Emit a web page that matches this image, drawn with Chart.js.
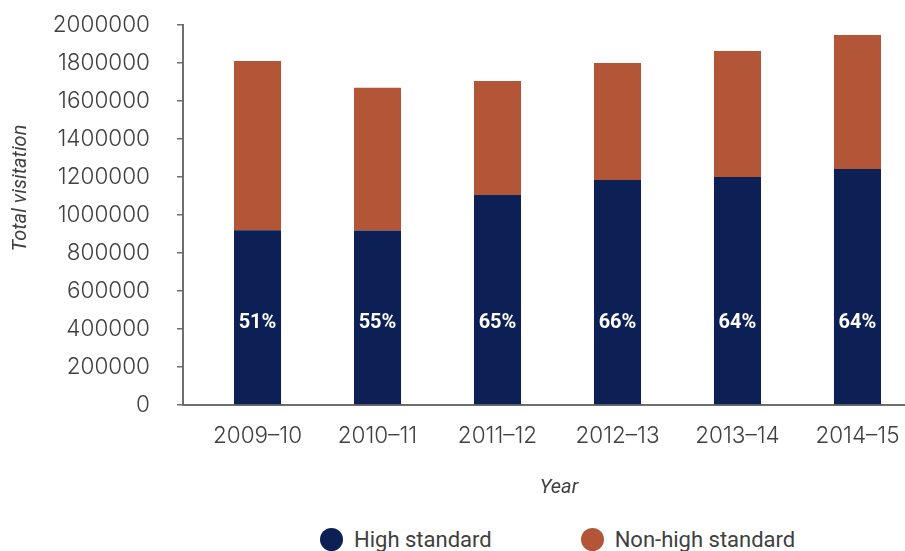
<!DOCTYPE html>
<html>
<head>
<meta charset="utf-8">
<title>Total visitation by year</title>
<script src="https://cdn.jsdelivr.net/npm/chart.js@4.4.1/dist/chart.umd.min.js"></script>
<style>
  html, body { margin: 0; padding: 0; background: #fff; overflow: hidden; }
  /* plot runs a little past the right edge of the window */
  #wrap { position: relative; width: 935px; height: 503px; }
  #legend {
    display: flex; align-items: center;
    margin-top: 21px; padding-left: 320px; height: 30px;
    font: 22px Roboto, sans-serif;
    color: #404040;
  }
  .item { display: flex; align-items: center; margin-right: 89px; white-space: nowrap; }
  .dot { width: 23px; height: 23px; border-radius: 50%; margin-right: 11px; }
</style>
</head>
<body>
<div id="wrap"><canvas id="visitChart"></canvas></div>
<div id="legend"></div>

<script>
const years = ['2009–10', '2010–11', '2011–12', '2012–13', '2013–14', '2014–15'];
const highStandard = [920000, 918000, 1105000, 1184000, 1200000, 1242000];
const nonHighStandard = [890000, 752000, 600000, 616000, 663000, 705000];
const yTicks = { min: 0, max: 2000000, step: 200000 };

const NAVY = 'rgb(12, 32, 85)';
const RUST = 'rgb(179, 86, 55)';
const TEXT = '#404040';
const AXIS = '#6e6e6e';
const TICK_FONT = 'Inter, "Open Sans", sans-serif';

// share of high standard visits, written inside the navy bars
const shareLabels = highStandard.map((h, i) =>
    Math.round(h / (h + nonHighStandard[i]) * 100) + '%');
const SHARE_LEVEL = 430000; // y value the share labels sit on

const shareLabelPlugin = {
    id: 'shareLabels',
    afterDatasetsDraw(chart) {
        const { ctx, scales: { y } } = chart;
        const meta = chart.getDatasetMeta(0);
        ctx.save();
        ctx.fillStyle = '#fff';
        ctx.font = 'bold 20px Roboto, sans-serif';
        ctx.textAlign = 'center';
        ctx.textBaseline = 'middle';
        meta.data.forEach((bar, i) => {
            ctx.fillText(shareLabels[i], bar.x, y.getPixelForValue(SHARE_LEVEL));
        });
        ctx.restore();
    }
};

// y title sits a little above the middle of the axis
const yTitlePlugin = {
    id: 'yTitle',
    afterDraw(chart) {
        const { ctx } = chart;
        ctx.save();
        ctx.translate(21, 188);
        ctx.rotate(-Math.PI / 2);
        ctx.fillStyle = TEXT;
        ctx.font = 'italic 20px Roboto, sans-serif';
        ctx.textAlign = 'center';
        ctx.textBaseline = 'middle';
        ctx.fillText('Total visitation', 0, 0);
        ctx.restore();
    }
};

const datasets = [
    { label: 'High standard', data: highStandard, backgroundColor: NAVY },
    { label: 'Non-high standard', data: nonHighStandard, backgroundColor: RUST }
];

// bars sit on a numeric x axis (one unit per year) so the first year
// starts a little way in from the y axis
new Chart(document.getElementById('visitChart'), {
    type: 'bar',
    data: {
        labels: years.map((_, i) => i),
        datasets: datasets.map(d => ({ ...d, barPercentage: 0.392, categoryPercentage: 1 }))
    },
    options: {
        responsive: true,
        maintainAspectRatio: false,
        animation: false,
        layout: { padding: { top: 25, right: 0, left: 0, bottom: 0 } },
        plugins: {
            legend: { display: false },
            tooltip: { enabled: false }
        },
        scales: {
            x: {
                type: 'linear',
                stacked: true,
                offset: false,
                min: -0.621,
                max: 5.646,
                afterFit(scale) { scale.height = 98; },
                afterBuildTicks(scale) { scale.ticks = years.map((_, i) => ({ value: i })); },
                grid: { display: false, drawTicks: false, offset: false },
                border: { display: true, color: AXIS, width: 2 },
                ticks: {
                    color: TEXT, padding: 18,
                    font: { family: TICK_FONT, size: 22.5, weight: 300 },
                    callback: v => years[v]
                },
                title: {
                    display: true, text: 'Year', color: TEXT,
                    font: { family: 'Roboto', size: 20, style: 'italic' },
                    padding: { top: 25, bottom: 3 }
                }
            },
            y: {
                stacked: true,
                min: yTicks.min,
                max: yTicks.max,
                afterFit(scale) {
                    scale.width = 183;
                    // keep the tick padding from pushing the plot down
                    scale.paddingTop = 14;
                    scale.paddingBottom = 14;
                },
                grid: { drawOnChartArea: false, drawTicks: true, tickLength: 6, color: AXIS, lineWidth: 1.5 },
                border: { display: true, color: AXIS, width: 2 },
                ticks: {
                    stepSize: yTicks.step,
                    padding: 27,
                    color: TEXT,
                    font: { family: TICK_FONT, size: 22.5, weight: 300 },
                    callback: v => String(v)
                }
            }
        }
    },
    plugins: [shareLabelPlugin, yTitlePlugin]
});

// legend built from the same datasets
const legendEl = document.getElementById('legend');
datasets.forEach(d => {
    const item = document.createElement('div');
    item.className = 'item';
    const dot = document.createElement('span');
    dot.className = 'dot';
    dot.style.background = d.backgroundColor;
    const text = document.createElement('span');
    text.textContent = d.label;
    item.append(dot, text);
    legendEl.appendChild(item);
});
</script>
</body>
</html>
